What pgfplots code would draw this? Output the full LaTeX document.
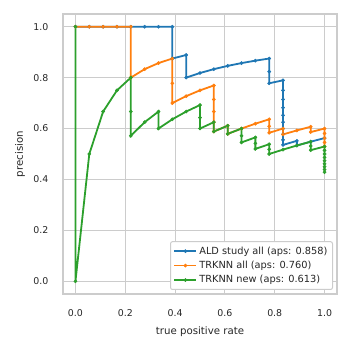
\documentclass[border=0pt]{standalone}
\usepackage{fontspec}
\setmainfont{DejaVu Sans}
\usepackage{pgfplots}
\pgfplotsset{compat=1.18}
\definecolor{c1}{HTML}{1F77B4}
\definecolor{c2}{HTML}{FF7F0E}
\definecolor{c3}{HTML}{2CA02C}
\definecolor{gridc}{HTML}{CCCCCC}
\definecolor{txt}{HTML}{262626}
\begin{document}
\begin{tikzpicture}
\begin{axis}[
  name=ax,
  scale only axis, width=274pt, height=280pt,
  xmin=-0.05, xmax=1.05, ymin=-0.05, ymax=1.05,
  xtick={0,0.2,0.4,0.6,0.8,1}, ytick={0,0.2,0.4,0.6,0.8,1},
  xticklabels={0.0,0.2,0.4,0.6,0.8,1.0},
  yticklabels={0.0,0.2,0.4,0.6,0.8,1.0},
  major tick length=0pt,
  grid=major, grid style={gridc, line width=1.1pt},
  axis line style={gridc, line width=1.3pt},
  tick label style={font=\fontsize{9.4}{11}\selectfont, text=txt},
  xticklabel style={anchor=center, yshift=-19pt, inner sep=0pt},
  yticklabel style={anchor=east, xshift=-14.5pt, inner sep=0pt},
  xlabel={true positive rate}, ylabel={precision},
  label style={font=\fontsize{10.2}{12}\selectfont, text=txt},
  xlabel style={at={(axis description cs:0.5,-0.136)}, anchor=center},
  ylabel style={at={(axis description cs:-0.157,0.5)}, anchor=center},
  legend cell align=left,
  legend style={at={(axis description cs:1,0)}, anchor=south east, xshift=-4pt, yshift=4pt,
    draw=gridc, line width=1pt, rounded corners=2pt, fill=white, font=\fontsize{9.8}{11}\selectfont, text=txt,
    inner xsep=3pt, inner ysep=3pt, row sep=1.5pt},
  legend image code/.code={\draw[mark repeat=2,mark phase=2,#1] plot coordinates {(0pt,0pt) (11pt,0pt) (22pt,0pt)};},
  every axis plot/.append style={line width=1.8pt, mark=*, mark size=1.6pt},
]
\addplot[c1, mark options={fill=c1, line width=0.5pt}] coordinates {
(0,1) (0.05556,1) (0.11111,1) (0.16667,1) (0.22222,1) (0.27778,1) (0.33333,1) (0.38889,1)
(0.38889,0.875) (0.44444,0.88889) (0.44444,0.8) (0.5,0.81818) (0.55556,0.83333) (0.61111,0.84615)
(0.66667,0.85714) (0.72222,0.86667) (0.77778,0.875) (0.77778,0.82353) (0.77778,0.77778)
(0.83333,0.78947) (0.83333,0.75) (0.83333,0.71429) (0.83333,0.68182) (0.83333,0.65217)
(0.83333,0.625) (0.83333,0.6) (0.83333,0.57692) (0.83333,0.55556) (0.83333,0.53571)
(0.88889,0.55172) (0.88889,0.53333) (0.94444,0.54839) (1,0.5625)
};
\addlegendentry{ALD study all (aps: 0.858)}
\addplot[c2, mark options={fill=c2, line width=0.5pt}] coordinates {
(0,1) (0.05556,1) (0.11111,1) (0.16667,1) (0.22222,1) (0.22222,0.8) (0.27778,0.83333)
(0.33333,0.85714) (0.38889,0.875) (0.38889,0.77778) (0.38889,0.7) (0.44444,0.72727) (0.5,0.75)
(0.55556,0.76923) (0.55556,0.71429) (0.55556,0.66667) (0.55556,0.625) (0.55556,0.58824)
(0.61111,0.61111) (0.61111,0.57895) (0.66667,0.6) (0.72222,0.61905) (0.77778,0.63636)
(0.77778,0.6087) (0.77778,0.58333) (0.83333,0.6) (0.83333,0.57692) (0.88889,0.59259)
(0.94444,0.60714) (0.94444,0.58621) (1,0.6) (1,0.58065) (1,0.5625) (1,0.54545) (1,0.52941)
};
\addlegendentry{TRKNN all (aps: 0.760)}
\addplot[c3, mark options={fill=c3, line width=0.5pt}] coordinates {
(0,1) (0,0) (0.05556,0.5) (0.11111,0.66667) (0.16667,0.75) (0.22222,0.8) (0.22222,0.66667)
(0.22222,0.57143) (0.27778,0.625) (0.33333,0.66667) (0.33333,0.6) (0.38889,0.63636)
(0.44444,0.66667) (0.5,0.69231) (0.5,0.64286) (0.5,0.6) (0.55556,0.625) (0.55556,0.58824)
(0.61111,0.61111) (0.61111,0.57895) (0.66667,0.6) (0.66667,0.57143) (0.66667,0.54545)
(0.72222,0.56522) (0.72222,0.54167) (0.72222,0.52) (0.77778,0.53846) (0.77778,0.51852)
(0.77778,0.5) (0.83333,0.51724) (0.88889,0.53333) (0.94444,0.54839) (0.94444,0.53125)
(0.94444,0.51515) (1,0.52941) (1,0.51429) (1,0.5) (1,0.48649) (1,0.47368) (1,0.46154)
(1,0.45) (1,0.43902) (1,0.42857)
};
\addlegendentry{TRKNN new (aps: 0.613)}
\end{axis}
\pgfresetboundingbox
\path[use as bounding box] ([shift={(-63pt,-58pt)}]ax.south west) rectangle ([shift={(15pt,14pt)}]ax.north east);
\end{tikzpicture}
\end{document}
